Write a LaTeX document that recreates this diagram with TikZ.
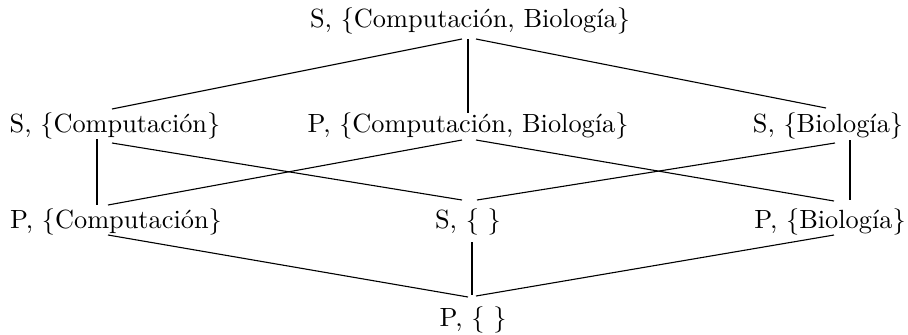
\documentclass[tikz,border=0pt]{standalone}
\usepackage{fontspec}
\usetikzlibrary{calc}
\begin{document}
\begin{tikzpicture}[x=0.38pt,y=-0.38pt,
  lbl/.style={anchor=base,inner sep=0pt,font=\fontsize{10}{12}\selectfont},
  edge/.style={draw=black,line width=0.42pt}]
\useasboundingbox (0,0) rectangle (908,334);
\node[lbl] (T)   at (470,27)  {S, \{Computación, Biología\}};
\node[lbl] (SC)  at (115,132) {S, \{Computación\}};
\node[lbl] (PCB) at (468,132) {P, \{Computación, Biología\}};
\node[lbl] (SB)  at (828,132) {S, \{Biología\}};
\node[lbl] (PC)  at (116,228) {P, \{Computación\}};
\node[lbl] (S0)  at (468,228) {S, \{ \}};
\node[lbl] (PB)  at (830,228) {P, \{Biología\}};
\node[lbl] (P0)  at (473,326) {P, \{ \}};
% top level
\draw[edge] ($(T.base)+(-8,12)$) -- ($(SC.base)+(-3,-23)$);
\draw[edge] ($(T.base)+(-2,12)$) -- ($(PCB.base)+(0,-19)$);
\draw[edge] ($(T.base)+(6,12)$) -- ($(SB.base)+(-2,-24)$);
% second level
\draw[edge] ($(SC.base)+(-18,7)$) -- ($(PC.base)+(-19,-23)$);
\draw[edge] ($(SC.base)+(-3,11)$) -- ($(S0.base)+(-6,-28)$);
\draw[edge] ($(PCB.base)+(-6,8)$) -- ($(PC.base)+(-8,-23)$);
\draw[edge] ($(PCB.base)+(8,8)$) -- ($(PB.base)+(4,-27)$);
\draw[edge] ($(SB.base)+(7,11)$) -- ($(S0.base)+(9,-28)$);
\draw[edge] ($(SB.base)+(22,8)$) -- ($(PB.base)+(20,-28)$);
% third level
\draw[edge] ($(PC.base)+(-8,7)$) -- ($(P0.base)+(-5,-29)$);
\draw[edge] ($(S0.base)+(4,14)$) -- ($(P0.base)+(-1,-31)$);
\draw[edge] ($(PB.base)+(4,7)$) -- ($(P0.base)+(3,-30)$);
\end{tikzpicture}
\end{document}
